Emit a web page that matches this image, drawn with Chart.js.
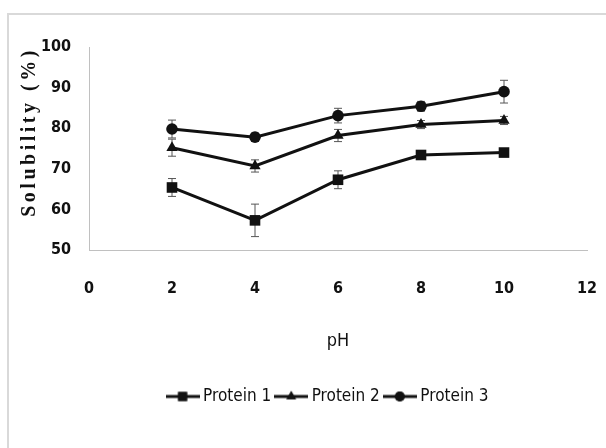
<!DOCTYPE html>
<html>
<head>
<meta charset="utf-8">
<script src="https://cdn.jsdelivr.net/npm/chart.js@4.4.0/dist/chart.umd.min.js"></script>
<style>
  html, body { margin: 0; padding: 0; background: #fff; }
  #wrap { width: 606px; height: 448px; }
</style>
</head>
<body>
<div id="wrap"><canvas id="solubility"></canvas></div>
<script>
// Data
const phValues = [2, 4, 6, 8, 10];
const seriesNames = ['Protein 1', 'Protein 2', 'Protein 3'];
const protein1 = [65.4, 57.3, 67.3, 73.4, 74.0];
const protein2 = [75.2, 70.7, 78.2, 80.9, 81.9];
const protein3 = [79.8, 77.8, 83.1, 85.4, 89.0];
const protein1Err = [2.2, 4.0, 2.2, 1.0, 1.0];
const protein2Err = [2.1, 1.5, 1.5, 1.0, 1.0];
const protein3Err = [2.2, 1.0, 1.8, 1.2, 2.8];
const xTicks = [0, 2, 4, 6, 8, 10, 12];
const yTicks = [50, 60, 70, 80, 90, 100];
const yTitle = 'Solubility (%)';

const ink = '#111';
const narrow = "'DejaVu Sans Condensed', 'DejaVu Sans', sans-serif";
const markerStyles = ['rect', 'triangle', 'circle'];
const markerSizes = [7.5, 6.5, 5.8];

// small canvas used as legend symbol: line with marker in the middle
function legendSymbol(style, r) {
    const c = document.createElement('canvas');
    c.width = 34; c.height = 16;
    const g = c.getContext('2d');
    g.strokeStyle = ink; g.fillStyle = ink; g.lineWidth = 3;
    g.beginPath(); g.moveTo(0, 8); g.lineTo(34, 8); g.stroke();
    Chart.helpers.drawPoint(g, {pointStyle: style, radius: r * 0.85, borderWidth: 0}, 17, 8);
    g.fill();
    return c;
}

function makeSeries(i, values) {
    return {
        label: seriesNames[i],
        data: phValues.map((x, k) => ({x: x, y: values[k]})),
        borderColor: ink,
        backgroundColor: ink,
        borderWidth: 3,
        pointStyle: markerStyles[i],
        pointRadius: markerSizes[i],
        pointBorderWidth: 0,
        tension: 0
    };
}

const errors = [protein1Err, protein2Err, protein3Err];

const errorBars = {
    id: 'errorBars',
    beforeDatasetsDraw(chart) {
        const ctx = chart.ctx, xs = chart.scales.x, ys = chart.scales.y;
        ctx.save();
        ctx.strokeStyle = '#555';
        ctx.lineWidth = 1;
        chart.data.datasets.forEach((ds, i) => {
            ds.data.forEach((p, k) => {
                const px = xs.getPixelForValue(p.x);
                const top = ys.getPixelForValue(p.y + errors[i][k]);
                const bot = ys.getPixelForValue(p.y - errors[i][k]);
                ctx.beginPath();
                ctx.moveTo(px, top); ctx.lineTo(px, bot);
                ctx.moveTo(px - 4, top); ctx.lineTo(px + 4, top);
                ctx.moveTo(px - 4, bot); ctx.lineTo(px + 4, bot);
                ctx.stroke();
            });
        });
        ctx.restore();
    }
};

// outer frame, legend nudge and the spaced-out y title
const frame = {
    id: 'frame',
    afterLayout(chart) {
        // legend in the original sits a little right of the page centre
        chart.legend.left += 32;
        chart.legend.right += 32;
    },
    beforeDraw(chart) {
        const ctx = chart.ctx;
        ctx.save();
        ctx.strokeStyle = '#d9d9d9';
        ctx.lineWidth = 2;
        ctx.beginPath();
        ctx.moveTo(8, 448); ctx.lineTo(8, 14); ctx.lineTo(606, 14);
        ctx.stroke();
        ctx.restore();
    },
    afterDraw(chart) {
        const ctx = chart.ctx;
        ctx.save();
        ctx.translate(30, 132);
        ctx.rotate(-Math.PI / 2);
        ctx.font = "bold 20px 'Liberation Serif', serif";
        ctx.letterSpacing = '3.5px';
        ctx.fillStyle = ink;
        ctx.textAlign = 'center';
        ctx.textBaseline = 'middle';
        ctx.fillText(yTitle, 0, 0);
        ctx.restore();
    }
};

const ctx = document.getElementById('solubility').getContext('2d');
const solubilityChart = new Chart(ctx, {
    type: 'line',
    data: {
        datasets: [makeSeries(0, protein1), makeSeries(1, protein2), makeSeries(2, protein3)]
    },
    options: {
        responsive: true,
        maintainAspectRatio: false,
        animation: false,
        layout: { padding: { left: 8, right: 19, top: 47, bottom: 33 } },
        plugins: {
            tooltip: { enabled: false },
            legend: {
                position: 'bottom',
                labels: {
                    color: ink,
                    font: { family: narrow, size: 17 },
                    usePointStyle: true,
                    pointStyleWidth: 24,
                    padding: 8,
                    generateLabels(chart) {
                        return chart.data.datasets.map((ds, i) => ({
                            text: ds.label,
                            pointStyle: legendSymbol(markerStyles[i], markerSizes[i]),
                            fillStyle: ink,
                            strokeStyle: ink,
                            lineWidth: 0,
                            fontColor: ink,
                            datasetIndex: i
                        }));
                    }
                }
            }
        },
        scales: {
            x: {
                type: 'linear',
                min: 0, max: 12,
                afterBuildTicks(scale) { scale.ticks = xTicks.map(v => ({value: v})); },
                afterFit(scale) {
                    scale.height = 130;
                    scale.paddingLeft = 0;
                    scale.paddingRight = 0;
                },
                grid: { display: false },
                border: { color: '#c0c0c0', width: 1 },
                ticks: { color: ink, padding: 21, font: { family: narrow, size: 16, weight: 'bold' } },
                title: {
                    display: true, text: 'pH', color: ink,
                    font: { family: narrow, size: 18 },
                    padding: { bottom: 28 }
                }
            },
            y: {
                min: 50, max: 100,
                afterBuildTicks(scale) { scale.ticks = yTicks.map(v => ({value: v})); },
                afterFit(scale) { scale.width = 81; },
                grid: { display: false },
                border: { color: '#c0c0c0', width: 1 },
                ticks: { color: ink, padding: 10, font: { family: narrow, size: 16, weight: 'bold' } }
            }
        }
    },
    plugins: [frame, errorBars]
});
</script>
</body>
</html>
